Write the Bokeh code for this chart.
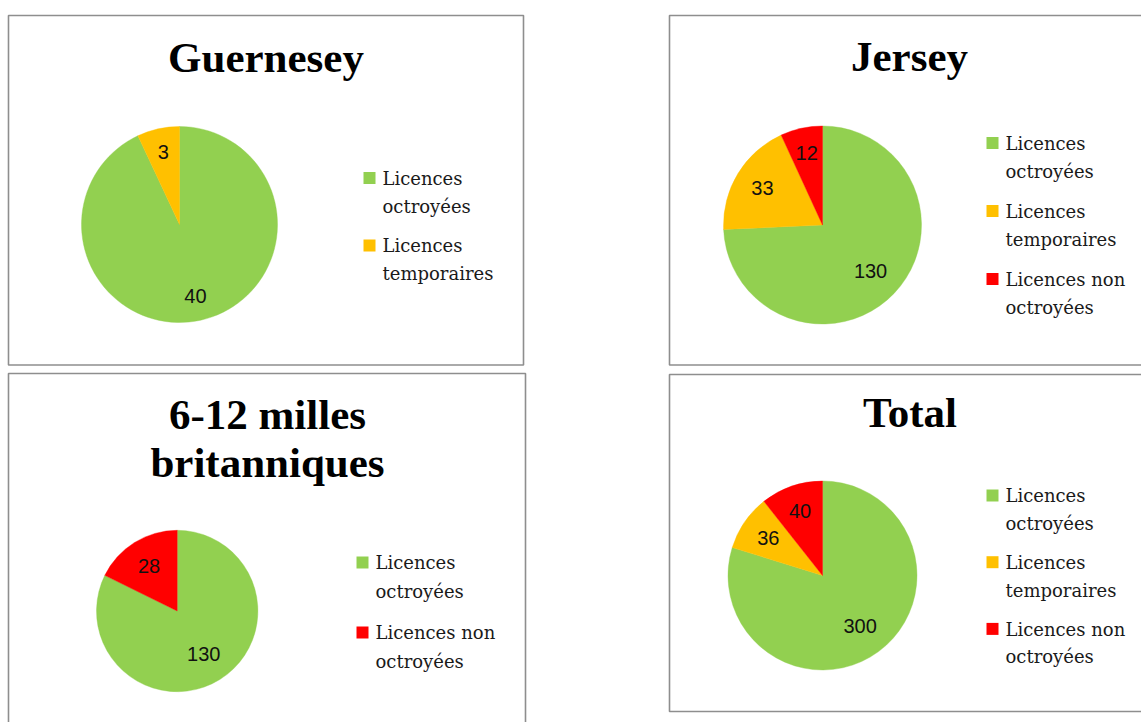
import math
from bokeh.plotting import figure
from bokeh.models import Range1d, ColumnDataSource
from bokeh.core.properties import value
from bokeh.embed import file_html
from bokeh.resources import INLINE

# ---------------- data ----------------
titles = ["Guernesey", "Jersey", "6-12 milles\nbritanniques", "Total"]

guernesey_categories = ["Licences octroyées", "Licences temporaires"]
guernesey_values = [40, 3]

jersey_categories = ["Licences octroyées", "Licences temporaires", "Licences non octroyées"]
jersey_values = [130, 33, 12]

milles_categories = ["Licences octroyées", "Licences non octroyées"]
milles_values = [130, 28]

total_categories = ["Licences octroyées", "Licences temporaires", "Licences non octroyées"]
total_values = [300, 36, 40]

category_colors = {
    "Licences octroyées": "#92D050",
    "Licences temporaires": "#FFC000",
    "Licences non octroyées": "#FF0000",
}

series = [
    (guernesey_categories, guernesey_values),
    (jersey_categories, jersey_values),
    (milles_categories, milles_values),
    (total_categories, total_values),
]

# ---------------- layout (screen pixel coordinates) ----------------
layouts = [
    dict(box=(8, 523, 15, 364.5), cx=179, cy=224, r=98, tx=265.5, tb=71.5,
         lx=382, lb=184, line=28, item=67.5),
    dict(box=(669, 1200, 15, 364.5), cx=822, cy=224.5, r=99, tx=909, tb=70.5,
         lx=1005, lb=149, line=28, item=68),
    dict(box=(8, 525, 373, 760), cx=176.7, cy=610.5, r=80.7, tx=267, tb=428.5,
         lx=375, lb=568.5, line=28.5, item=70),
    dict(box=(669, 1200, 374, 711), cx=822, cy=575, r=94.5, tx=909.5, tb=427,
         lx=1005, lb=501.5, line=27.7, item=66.7),
]
TITLE_LINE = 48.5
TITLE_FS = 43
LEGEND_FS = 18
LABEL_FS = 20
LABEL_PAD = 15.5

W, H = 1141, 722
p = figure(width=W, height=H,
           x_range=Range1d(0, W), y_range=Range1d(-H, 0),
           x_axis_type=None, y_axis_type=None,
           toolbar_location=None, output_backend="svg", min_border=0)
p.outline_line_color = None
p.background_fill_color = "white"
p.border_fill_color = "white"

# panel borders
p.quad(left=[L["box"][0] for L in layouts],
       right=[L["box"][1] for L in layouts],
       top=[-L["box"][2] for L in layouts],
       bottom=[-L["box"][3] for L in layouts],
       fill_color=None, line_color="#8e8e8e", line_width=1.6)

for (cats, vals), L, title in zip(series, layouts, titles):
    total = float(sum(vals))
    xs, ys, rs, starts, ends, cols = [], [], [], [], [], []
    lxs, lys, ltxt = [], [], []
    cum = 0.0
    for c, v in zip(cats, vals):
        f0 = cum / total
        cum += v
        f1 = cum / total
        # Excel pie: clockwise from 12 o'clock
        starts.append(math.pi / 2 - 2 * math.pi * f1)
        ends.append(math.pi / 2 - 2 * math.pi * f0)
        xs.append(L["cx"]); ys.append(-L["cy"]); rs.append(L["r"])
        cols.append(category_colors[c])
        th = 2 * math.pi * (f0 + f1) / 2
        w = len(str(v)) * 0.556 * LABEL_FS
        h = 0.716 * LABEL_FS
        d = L["r"] - LABEL_PAD - (abs(math.sin(th)) * w / 2 + abs(math.cos(th)) * h / 2)
        lxs.append(L["cx"] + d * math.sin(th))
        lys.append(-(L["cy"] - d * math.cos(th)))
        ltxt.append(str(v))
    src = ColumnDataSource(dict(x=xs, y=ys, r=rs, start=starts, end=ends, color=cols))
    p.wedge(x="x", y="y", radius="r", start_angle="start", end_angle="end",
            direction="anticlock", fill_color="color", line_color="color",
            line_width=0.4, source=src)
    p.text(x=lxs, y=lys, text=ltxt, text_align="center", text_baseline="middle",
           text_font=value("Liberation Sans"), text_font_size=f"{LABEL_FS}px",
           text_color="#111111")

    # title (positioned by its middle)
    tlines = title.split("\n")
    p.text(x=[L["tx"]] * len(tlines),
           y=[-(L["tb"] + i * TITLE_LINE - 0.34 * TITLE_FS) for i in range(len(tlines))],
           text=tlines, text_align="center", text_baseline="middle",
           text_font=value("Liberation Serif"), text_font_style="bold",
           text_font_size=f"{TITLE_FS}px", text_color="#000000")

    # legend
    sq_x, sq_y, sq_c = [], [], []
    tx, ty, tt = [], [], []
    for i, c in enumerate(cats):
        base = L["lb"] + i * L["item"]
        sq_x.append(L["lx"] - 13); sq_y.append(-(base - 6.5)); sq_c.append(category_colors[c])
        for j, part in enumerate(c.rsplit(" ", 1)):
            tx.append(L["lx"]); ty.append(-(base + j * L["line"] - 0.35 * LEGEND_FS)); tt.append(part)
    p.scatter(x=sq_x, y=sq_y, marker="square", size=12, fill_color=sq_c, line_color=None)
    p.text(x=tx, y=ty, text=tt, text_align="left", text_baseline="middle",
           text_font=value("DejaVu Serif"), text_font_size=f"{LEGEND_FS}px",
           text_color="#1a1a1a")

open("out.html", "w", encoding="utf-8").write(file_html(p, INLINE))
